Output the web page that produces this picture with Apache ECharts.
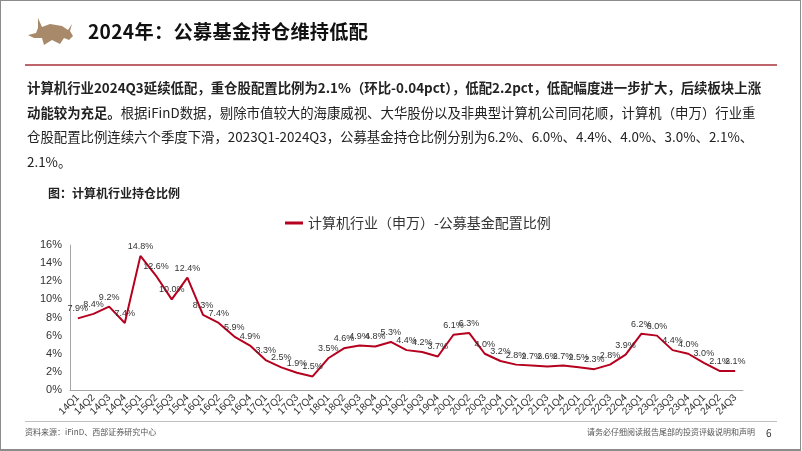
<!DOCTYPE html>
<html>
<head>
<meta charset="utf-8">
<script src="https://cdn.jsdelivr.net/npm/echarts@6/dist/echarts.min.js"></script>
<style>
  html, body { margin: 0; padding: 0; background: #fff; }
  .page { position: relative; width: 802px; height: 451px; overflow: hidden; font-family: "Noto Sans CJK SC", "Noto Sans", sans-serif; }
  .frame { position: absolute; left: 0; top: 0; width: 799px; height: 448px; border: 1.5px solid #8c8c8c; border-bottom-width: 2px; box-sizing: content-box; }
  .title { position: absolute; left: 88px; top: 17px; font-size: 19.2px; font-weight: bold; color: #111; letter-spacing: 0.3px; }
  .rule { position: absolute; left: 25px; width: 752px; top: 64px; height: 2px; background: #c0646c; }
  .para { position: absolute; left: 27px; top: 75px; font-size: 13.4px; color: #222; line-height: 24.5px; }
  .para div { white-space: nowrap; }
  .para b { font-weight: bold; }
  .cap { position: absolute; left: 48px; top: 184px; font-size: 12px; font-weight: bold; color: #222; }
  .foot-line { position: absolute; left: 25px; width: 752px; top: 421px; height: 1px; background: #bfbfbf; }
  .src { position: absolute; left: 25px; top: 426px; font-size: 8px; color: #555; }
  .note { position: absolute; left: 587px; top: 426px; font-size: 8px; color: #555; }
  .pg { position: absolute; left: 766px; top: 425px; font-size: 10px; color: #333; }
  #chart { position: absolute; left: 0; top: 0; width: 802px; height: 451px; }
</style>
</head>
<body>
<div class="page">
  <div id="chart"></div>
  <div class="frame"></div>
  <svg style="position:absolute;left:26px;top:16px" width="50" height="32" viewBox="0 0 50 32">
    <path d="M12 2 L16 11 L24 8 L36 10 L42 14 L46 8 L44 15 L47 20 L43 24 L38 22 L34 28 L26 24 L18 29 L16 22 L8 22 L2 19 L10 17 L12 12 Z" fill="#a88a6a"/>
  </svg>
  <div class="title">2024年：公募基金持仓维持低配</div>
  <div class="rule"></div>
  <div class="para">
    <div><b>计算机行业2024Q3延续低配，重仓股配置比例为2.1%（环比-0.04pct），低配2.2pct，低配幅度进一步扩大，后续板块上涨</b></div>
    <div><b>动能较为充足。</b>根据iFinD数据，剔除市值较大的海康威视、大华股份以及非典型计算机公司同花顺，计算机（申万）行业重</div>
    <div>仓股配置比例连续六个季度下滑，2023Q1-2024Q3，公募基金持仓比例分别为6.2%、6.0%、4.4%、4.0%、3.0%、2.1%、</div>
    <div>2.1%。</div>
  </div>
  <div class="cap">图：计算机行业持仓比例</div>
  <div class="foot-line"></div>
  <div class="src">资料来源：iFinD、西部证券研究中心</div>
  <div class="note">请务必仔细阅读报告尾部的投资评级说明和声明</div>
  <div class="pg">6</div>
</div>
<script>
// 季度
const quarters = [
  '14Q1','14Q2','14Q3','14Q4','15Q1','15Q2','15Q3','15Q4',
  '16Q1','16Q2','16Q3','16Q4','17Q1','17Q2','17Q3','17Q4',
  '18Q1','18Q2','18Q3','18Q4','19Q1','19Q2','19Q3','19Q4',
  '20Q1','20Q2','20Q3','20Q4','21Q1','21Q2','21Q3','21Q4',
  '22Q1','22Q2','22Q3','22Q4','23Q1','23Q2','23Q3','23Q4',
  '24Q1','24Q2','24Q3'
];
// 计算机行业（申万）-公募基金配置比例 (%)
const ratio = [
  7.9, 8.4, 9.2, 7.4, 14.8, 12.6, 10.0, 12.4,
  8.3, 7.4, 5.9, 4.9, 3.3, 2.5, 1.9, 1.5,
  3.5, 4.6, 4.9, 4.8, 5.3, 4.4, 4.2, 3.7,
  6.1, 6.3, 4.0, 3.2, 2.8, 2.7, 2.6, 2.7,
  2.5, 2.3, 2.8, 3.9, 6.2, 6.0, 4.4, 4.0,
  3.0, 2.1, 2.1
];
const seriesName = '计算机行业（申万）-公募基金配置比例';

const chart = echarts.init(document.getElementById('chart'));
chart.setOption({
  animation: false,
  textStyle: { fontFamily: 'Liberation Sans, Arial, sans-serif' },
  legend: {
    left: 280,
    top: 211,
    itemWidth: 18,
    itemHeight: 3,
    icon: 'rect',
    itemGap: 4,
    textStyle: { fontSize: 14, color: '#333', fontFamily: 'Noto Sans CJK SC' },
    data: [seriesName]
  },
  grid: { left: 70, right: 59, top: 245, bottom: 61 },
  xAxis: {
    type: 'category',
    data: quarters,
    boundaryGap: true,
    axisLine: { lineStyle: { color: '#a6a6a6' } },
    axisTick: { inside: true, length: 3, lineStyle: { color: '#a6a6a6' } },
    axisLabel: { rotate: 45, fontSize: 10, color: '#333', interval: 0, margin: 6 }
  },
  yAxis: {
    type: 'value',
    min: 0,
    max: 16,
    interval: 2,
    splitLine: { show: false },
    axisLine: { show: true, lineStyle: { color: '#a6a6a6' } },
    axisTick: { show: false },
    axisLabel: { formatter: '{value}%', fontSize: 11, color: '#333', margin: 8 }
  },
  series: [{
    name: seriesName,
    type: 'line',
    data: ratio,
    symbol: 'circle',
    symbolSize: 0,
    showAllSymbol: true,
    lineStyle: { color: '#b5001e', width: 2 },
    itemStyle: { color: '#b5001e' },
    label: {
      show: true,
      position: 'top',
      distance: 5,
      fontSize: 9,
      color: '#333',
      formatter: p => p.value.toFixed(1) + '%'
    }
  }]
});
</script>
</body>
</html>
